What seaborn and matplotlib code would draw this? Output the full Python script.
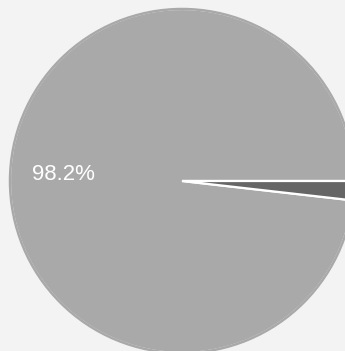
import matplotlib
matplotlib.use("Agg")
import matplotlib.pyplot as plt
import seaborn as sns

# Share of the two categories
labels = ["Main", "Other"]
shares = [98.2, 1.8]
slice_colors = ["#a9a9a9", "#666666"]

sns.set_theme(style="white")
plt.rcParams["font.family"] = ["Liberation Sans", "DejaVu Sans"]

fig = plt.figure(figsize=(3.45, 3.51), dpi=100)
fig.patch.set_facecolor("#f3f3f3")
ax = fig.add_axes([0, 0, 1, 1])
ax.set_facecolor("#f3f3f3")

def pct_label(p):
    return f"{p:.1f}%" if p > 5 else ""

wedges, texts, autotexts = ax.pie(
    shares,
    colors=slice_colors,
    startangle=0,
    counterclock=True,
    autopct=pct_label,
    pctdistance=0.69,
    wedgeprops=dict(edgecolor="white", linewidth=1.6),
    textprops=dict(color="white", fontsize=16),
)
# keep the white separators only between slices, not around the rim
for w in wedges:
    w.set_edgecolor("white")
ax.add_patch(plt.Circle((0, 0), 1.0, fill=False, edgecolor="#a9a9a9", linewidth=1.8))

# centre at pixel (182, 181), radius 172 px
ax.set_xlim(-182 / 172, 163 / 172)
ax.set_ylim(-170 / 172, 181 / 172)
ax.set_aspect("auto")
ax.axis("off")

fig.savefig("out.png", dpi=100, facecolor=fig.get_facecolor())
